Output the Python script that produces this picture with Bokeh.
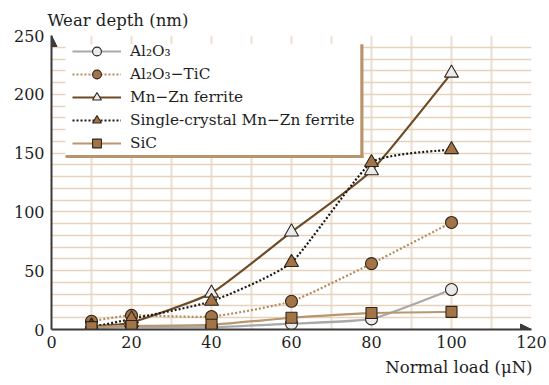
import numpy as np
from bokeh.plotting import figure
from bokeh.models import (Legend, LegendItem, SingleIntervalTicker, Arrow,
                          NormalHead, BoxAnnotation, Title)
from bokeh.embed import file_html
from bokeh.resources import INLINE

# Wear depth (nm) against normal load (µN) for five materials
loads = [10, 20, 40, 60, 80, 100]
al2o3 = [1, 2, 2, 5, 9, 34]
al2o3_tic = [7, 12, 11, 24, 56, 91]
mnzn = [3, 6, 31, 83, 135, 218]
sc_mnzn = [2, 9, 24, 57, 142, 153]
sic = [2, 3, 4, 10, 14, 15]

names = ["Al₂O₃", "Al₂O₃−TiC", "Mn−Zn ferrite",
         "Single-crystal Mn−Zn ferrite", "SiC"]

x_ticks = [0, 20, 40, 60, 80, 100, 120]
y_ticks = [0, 50, 100, 150, 200, 250]

FONT = "DejaVu Serif"
AXIS = "#3b3b3b"
BROWN = "#a27446"
LIGHT = "#ebebeb"
EDGE = "#2e241a"
TEXT = "#1e1e1e"

styles = [
    dict(values=al2o3, line="#a9a9a9", dash="solid", marker="circle", fill=LIGHT, size=12),
    dict(values=al2o3_tic, line="#b48c60", dash="2 2", marker="circle", fill=BROWN, size=12),
    dict(values=mnzn, line="#6e4b27", dash="solid", marker="triangle", fill=LIGHT, size=14),
    dict(values=sc_mnzn, line="#1a1a1a", dash="2 2", marker="triangle", fill=BROWN, size=14),
    dict(values=sic, line="#b99670", dash="solid", marker="square", fill=BROWN, size=11),
]


def soft_curve(xs, ys, k=12.0):
    """Cubic Bezier pieces of a gently smoothed curve through the points
    (Catmull-Rom tangents, softened by k)."""
    x = np.asarray(xs, float)
    y = np.asarray(ys, float)
    qx = np.concatenate([[x[0]], x, [x[-1]]])
    qy = np.concatenate([[y[0]], y, [y[-1]]])
    i = np.arange(len(x) - 1)
    return dict(
        x0=x[:-1], y0=y[:-1], x1=x[1:], y1=y[1:],
        cx0=qx[i + 1] + (qx[i + 2] - qx[i]) / k,
        cy0=qy[i + 1] + (qy[i + 2] - qy[i]) / k,
        cx1=qx[i + 2] - (qx[i + 3] - qx[i + 1]) / k,
        cy1=qy[i + 2] - (qy[i + 3] - qy[i + 1]) / k,
    )


p = figure(width=549, height=385, x_range=(0, 120), y_range=(0, 250),
           output_backend="svg", toolbar_location=None,
           min_border_left=51, min_border_right=18,
           min_border_top=35, min_border_bottom=56)
p.outline_line_color = None
p.background_fill_color = "white"
p.border_fill_color = "white"

# axis titles: vertical one above the y axis, horizontal one under the x axis
p.title.text = "Wear depth (nm)"
p.title.align = "left"
p.title.offset = -4
p.title.standoff = 12
p.title.text_font = FONT
p.title.text_font_size = "16.5px"
p.title.text_font_style = "normal"
p.title.text_color = TEXT
p.add_layout(Title(text="Normal load (μN)", align="right", offset=-1,
                   standoff=10, text_font=FONT, text_font_size="16.5px",
                   text_font_style="normal", text_color=TEXT), "below")

# grid every 10 units
p.xgrid.ticker = SingleIntervalTicker(interval=10)
p.ygrid.ticker = SingleIntervalTicker(interval=10)
p.xgrid.grid_line_color = "#eddfd0"
p.ygrid.grid_line_color = "#e6d3bd"
p.xgrid.grid_line_width = 2
p.ygrid.grid_line_width = 1.6

p.xaxis.ticker = x_ticks
p.yaxis.ticker = y_ticks
for ax in (p.xaxis, p.yaxis):
    ax.axis_line_color = AXIS
    ax.axis_line_width = 2
    ax.major_tick_out = 0
    ax.major_tick_in = 0
    ax.minor_tick_out = 0
    ax.minor_tick_in = 0
    ax.major_label_text_font = FONT
    ax.major_label_text_font_size = "16px"
    ax.major_label_text_color = TEXT
p.xaxis.major_label_standoff = 6
p.yaxis.major_label_standoff = 7

# arrow heads at the axis ends
p.add_layout(Arrow(end=NormalHead(size=11, fill_color=AXIS, line_color=AXIS),
                   x_start=0, y_start=0, x_end=0, y_end=250, line_color=None))
p.add_layout(Arrow(end=NormalHead(size=11, fill_color=AXIS, line_color=AXIS),
                   x_start=0, y_start=0, x_end=120, y_end=0, line_color=None))

# smoothed curves, then markers on top
curves = []
for st in styles:
    curves.append(p.bezier(source=soft_curve(loads, st["values"]),
                           x0="x0", y0="y0", x1="x1", y1="y1",
                           cx0="cx0", cy0="cy0", cx1="cx1", cy1="cy1",
                           line_color=st["line"], line_width=2.2,
                           line_dash=st["dash"]))

legend_items = []
for st, name, cv in zip(styles, names, curves):
    sc = p.scatter(loads, st["values"], marker=st["marker"], size=st["size"],
                   fill_color=st["fill"], line_color=EDGE, line_width=1.1)
    legend_items.append(LegendItem(label=name, renderers=[cv, sc], index=0))

# legend panel with a drop edge on the right and bottom
p.add_layout(BoxAnnotation(left=3.5, right=77.2, bottom=148.3, top=242.5,
                           fill_color="white", fill_alpha=1, line_color=None,
                           level="overlay"))
p.add_layout(BoxAnnotation(left=77.2, right=78.0, bottom=145.8, top=242.5,
                           fill_color="#b9956c", fill_alpha=1, line_color=None,
                           level="overlay"))
p.add_layout(BoxAnnotation(left=3.5, right=78.0, bottom=145.8, top=148.3,
                           fill_color="#b9956c", fill_alpha=1, line_color=None,
                           level="overlay"))

legend = Legend(items=legend_items, location=(21, 175), padding=0, margin=0,
                spacing=1, glyph_width=49, glyph_height=22, label_height=22,
                label_standoff=9, label_text_font=FONT,
                label_text_font_size="15.3px", label_text_color=TEXT,
                background_fill_alpha=0, border_line_color=None,
                level="overlay")
p.add_layout(legend, "center")

open("out.html", "w").write(file_html(p, INLINE))
